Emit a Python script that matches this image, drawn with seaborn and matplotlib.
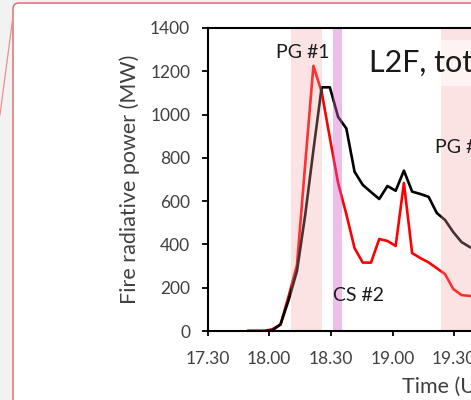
import matplotlib.pyplot as plt
import matplotlib.patches as mpatches
import matplotlib.transforms as mtransforms
from matplotlib.lines import Line2D
from matplotlib.ticker import FuncFormatter
import numpy as np
import pandas as pd
import seaborn as sns

# observation times (UTC) and fire radiative power (MW)
times = ["17:49:30", "17:53:30", "17:57:30", "18:01:30", "18:05:30", "18:09:30",
         "18:13:30", "18:17:30", "18:21:30", "18:25:30", "18:29:30", "18:33:30",
         "18:37:30", "18:41:30", "18:45:30", "18:49:30", "18:53:30", "18:57:30",
         "19:01:30", "19:05:30", "19:09:30", "19:13:30", "19:17:30", "19:21:30",
         "19:25:30", "19:29:30", "19:33:30", "19:37:30", "19:41:30"]
frp_black = [0, 0, 0, 3, 30, 145, 277, 536, 836, 1126, 1126, 989, 936, 736, 675,
             642, 610, 670, 648, 741, 644, 633, 620, 545, 513, 457, 411, 388, 372]
frp_red = [0, 0, 0, 8, 30, 162, 305, 770, 1225, 1105, 892, 684, 540, 383, 316,
           316, 425, 416, 393, 684, 360, 337, 317, 290, 263, 194, 166, 162, 160]

# shaded periods
pg_periods = [("18:10:36", "18:25:30"), ("19:23:24", "20:30:00")]
cs_periods = [("18:30:54", "18:35:30")]

x_ticks = ["17:30:00", "18:00:00", "18:30:00", "19:00:00", "19:30:00",
           "20:00:00", "20:30:00", "21:00:00"]
y_ticks = [0, 200, 400, 600, 800, 1000, 1200, 1400]


def to_hours(values):
    return pd.to_timedelta(pd.Series(values)).dt.total_seconds().to_numpy() / 3600


df = pd.DataFrame({
    "hour": np.concatenate([to_hours(times), to_hours(times)]),
    "frp": frp_red + frp_black,
    "series": ["red"] * len(times) + ["black"] * len(times),
})

sns.set_theme(style="white")
plt.rcParams["font.family"] = ["Lato", "DejaVu Sans"]

W, H = 471, 400
fig = plt.figure(figsize=(W / 100, H / 100), dpi=100, facecolor="#f2f2f2")
px = mtransforms.Affine2D().scale(1 / W, 1 / H) + fig.transFigure

# white panel with rounded border and callout line
panel = mpatches.FancyBboxPatch((13, -300), 800, 697, boxstyle="round,pad=0,rounding_size=6",
                                transform=px, facecolor="white", edgecolor="#e07070",
                                linewidth=1.1, zorder=-2)
fig.add_artist(panel)
fig.add_artist(Line2D([13, 0], [384, 285], transform=px, color="#e89090", linewidth=0.9, zorder=-1))

px_per_hour = 123.4
ax = fig.add_axes([207.5 / W, 69 / H, 4 * px_per_hour / W, 303 / H])
ax.set_facecolor("white")

sns.lineplot(data=df, x="hour", y="frp", hue="series", hue_order=["red", "black"],
             palette={"red": "#ff0000", "black": "#000000"}, estimator=None,
             linewidth=1.9, legend=False, ax=ax, zorder=2)

for start, end in pg_periods:
    a, b = to_hours([start, end])
    ax.axvspan(a, b, color=(247 / 255, 165 / 255, 165 / 255), alpha=0.3, lw=0, zorder=3)
for start, end in cs_periods:
    a, b = to_hours([start, end])
    ax.axvspan(a, b, color=(208 / 255, 93 / 255, 198 / 255), alpha=0.4, lw=0, zorder=3)

ax.set_xlim(17.5, 21.5)
ax.set_ylim(0, 1400)
ax.set_xticks(to_hours(x_ticks))
ax.set_yticks(y_ticks)
ax.xaxis.set_major_formatter(FuncFormatter(lambda v, _: f"{int(v)}.{int(round((v % 1) * 60)):02d}"))

for side in ["top", "left", "bottom", "right"]:
    ax.spines[side].set_color("black")
    ax.spines[side].set_linewidth(1.5)
    ax.spines[side].set_zorder(6)

ax.tick_params(axis="y", direction="out", length=4.5, width=1.3, pad=8,
               labelsize=12.5, labelcolor="#404040", color="black", left=True)
ax.tick_params(axis="x", direction="out", length=3.5, width=1.3, pad=11,
               labelsize=12.5, labelcolor="#404040", color="black", bottom=True)

ax.set_ylabel("Fire radiative power (MW)", fontsize=15.5, color="#404040")
ax.yaxis.set_label_coords((140 - 207.5) / (4 * px_per_hour), 0.5)
ax.set_xlabel("Time (UTC)", fontsize=15.5, color="#404040", ha="left")
ax.xaxis.set_label_coords((401.7 - 207.5) / (4 * px_per_hour), -(377 - 331) / 303)

ax.text(18.274, 1289, "PG #1", fontsize=14, ha="center", va="center", color="#1a1a1a", zorder=7)
ax.text(19.344, 850, "PG #2", fontsize=14, ha="left", va="center", color="#1a1a1a", zorder=7)
ax.text(18.52, 162, "CS #2", fontsize=14, ha="left", va="center", color="#1a1a1a", zorder=7)
ax.text(18.81, 1198, "L2F, total", fontsize=22, ha="left", va="baseline", color="#1a1a1a",
        zorder=7, bbox=dict(boxstyle="square,pad=0.3", facecolor="white", edgecolor="none", alpha=0.6))

fig.savefig("out.png", dpi=100, facecolor=fig.get_facecolor())
